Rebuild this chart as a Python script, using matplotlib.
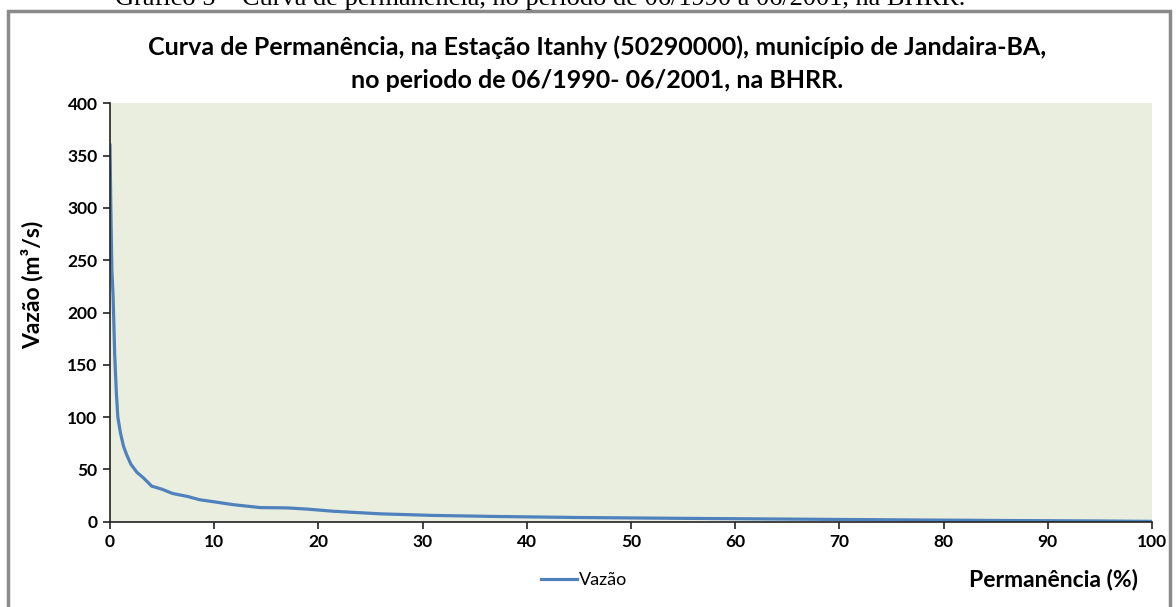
import numpy as np
import matplotlib.pyplot as plt
from matplotlib.patches import Rectangle

# curva de permanencia
permanencia = [0, 0.08, 0.18, 0.3, 0.45, 0.6, 0.75, 1.0, 1.3, 1.6, 2.0, 2.6, 3.2, 4.0,
               5.0, 6.0, 7.5, 8.6, 10, 11.8, 14.4, 17, 19, 21.4, 26, 31, 37, 45,
               55, 65, 75, 85, 95, 100]
vazao = [360, 300, 240, 215, 160, 125, 100, 85, 72, 64, 55, 47, 42, 34,
         31, 27, 24, 21, 19, 16.3, 13.5, 13.2, 12, 10, 7.5, 6, 5, 4,
         3.2, 2.5, 1.8, 1.2, 0.7, 0.3]
xticks = list(range(0, 101, 10))
yticks = list(range(0, 401, 50))

W, H = 1176, 607
fig = plt.figure(figsize=(W / 100, H / 100), dpi=100)
plt.rcParams['font.family'] = ['Lato', 'DejaVu Sans']

# caption cut at the top of the page
fig.text(540 / W, 1 - 5 / H, 'Gráfico 5 – Curva de permanência, no período de 06/1990 a 06/2001, na BHRR.',
         ha='center', va='baseline', fontsize=19, family='Liberation Serif')

# chart border
fig.patches.append(Rectangle((8 / W, -0.1), (1170 - 8) / W, (H - 11) / H + 0.1,
                             transform=fig.transFigure, fill=False,
                             edgecolor='#8a8a8a', linewidth=2.5))

ax = fig.add_axes([110 / W, 1 - 521.7 / H, (1152 - 110) / W, (521.7 - 103.3) / H])
ax.set_facecolor('#eaeedf')
ax.plot(permanencia, vazao, color='#4f81bd', linewidth=2.3, label='Vazão')
ax.set_xlim(0, 100)
ax.set_ylim(0, 400)
ax.set_xticks(xticks)
ax.set_yticks(yticks)
for s in ['top', 'right']:
    ax.spines[s].set_visible(False)
for s in ['left', 'bottom']:
    ax.spines[s].set_color('#222222')
    ax.spines[s].set_linewidth(1.2)
ax.tick_params(length=5, width=1.2, color='#222222', labelsize=12.5, pad=4)
for lab in ax.get_xticklabels() + ax.get_yticklabels():
    lab.set_fontweight('bold')

fig.text(597 / W, 1 - 47 / H, 'Curva de Permanência, na Estação Itanhy (50290000), município de Jandaira-BA,',
         ha='center', va='center', fontsize=18, fontweight='bold')
fig.text(597 / W, 1 - 80 / H, 'no periodo de 06/1990- 06/2001, na BHRR.',
         ha='center', va='center', fontsize=18, fontweight='bold')

fig.text(32 / W, 1 - 285 / H, 'Vazão (m³/s)', rotation=90, ha='center', va='center',
         fontsize=16.5, fontweight='bold')
fig.text(1138 / W, 1 - 580 / H, 'Permanência (%)', ha='right', va='center',
         fontsize=16.5, fontweight='bold')

ax.legend(loc='center', bbox_to_anchor=(584 / W, 1 - 580 / H), bbox_transform=fig.transFigure,
          frameon=False, fontsize=13, handlelength=2.0, handletextpad=0.1)

fig.savefig('out.png', dpi=100)
